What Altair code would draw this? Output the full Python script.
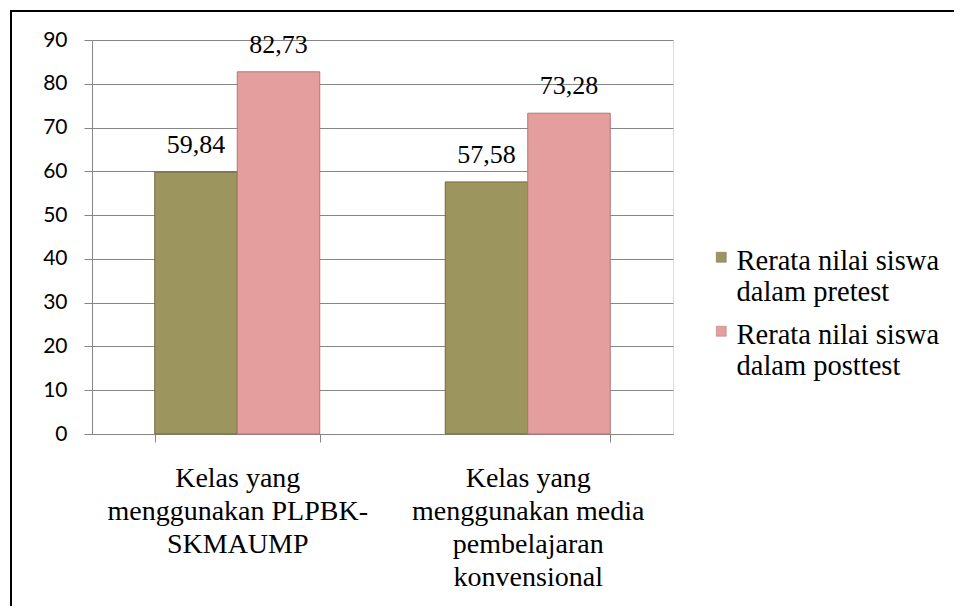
import altair as alt
import pandas as pd

categories = [
    "Kelas yang|menggunakan PLPBK-|SKMAUMP",
    "Kelas yang|menggunakan media|pembelajaran|konvensional",
]
series = ["Rerata nilai siswa|dalam pretest", "Rerata nilai siswa|dalam posttest"]
pretest = [59.84, 57.58]
posttest = [82.73, 73.28]
colors = ["#9C955E", "#E59E9E"]
strokes = ["#6F6A3E", "#B37575"]
y_ticks = [0, 10, 20, 30, 40, 50, 60, 70, 80, 90]

rows = []
for i, c in enumerate(categories):
    rows.append({"kelas": c, "seri": series[0], "nilai": pretest[i]})
    rows.append({"kelas": c, "seri": series[1], "nilai": posttest[i]})
df = pd.DataFrame(rows)

GRID = "#868686"
SERIF = "Liberation Serif, Times New Roman, serif"

x_enc = alt.X(
    "kelas:N",
    sort=categories,
    scale=alt.Scale(paddingInner=0.432, paddingOuter=0.216),
    axis=alt.Axis(
        title=None,
        labelExpr="split(datum.label, '|')",
        labelAngle=0,
        labelFont=SERIF,
        labelFontSize=28,
        labelLineHeight=33,
        labelBaseline="alphabetic",
        labelPadding=44,
        labelLimit=400,
        labelColor="black",
        labelOverlap=False,
        tickBand="extent",
        tickSize=8,
        tickColor=GRID,
        domainColor=GRID,
        grid=False,
    ),
)
x_off = alt.XOffset("seri:N", sort=series, scale=alt.Scale(paddingInner=0, paddingOuter=0))
y_enc = alt.Y(
    "nilai:Q",
    scale=alt.Scale(domain=[0, 90], nice=False),
    axis=alt.Axis(
        title=None,
        values=y_ticks,
        grid=True,
        gridColor=GRID,
        gridWidth=1,
        domainColor=GRID,
        tickColor=GRID,
        tickSize=8,
        labelFont="Lato",
        labelFontSize=21,
        labelPadding=17,
        labelColor="black",
    ),
)

bars = alt.Chart(df).mark_bar(strokeWidth=1).encode(
    x=x_enc,
    xOffset=x_off,
    y=y_enc,
    color=alt.Color(
        "seri:N",
        sort=series,
        scale=alt.Scale(domain=series, range=colors),
        legend=alt.Legend(
            title=None,
            orient="none",
            legendX=615,
            legendY=193,
            direction="vertical",
            symbolType="M-1,1H1V3H-1Z",
            symbolSize=100,
            symbolStrokeColor="#777777",
            symbolStrokeWidth=0.5,
            labelFont=SERIF,
            labelFontSize=28.5,
            labelExpr="split(datum.label, '|')",
            labelBaseline="top",
            labelOffset=1,
            labelLimit=300,
            labelColor="black",
            rowPadding=-5,
            padding=0,
        ),
    ),
    stroke=alt.Stroke("seri:N", scale=alt.Scale(domain=series, range=strokes), legend=None),
)

labels = alt.Chart(df).transform_calculate(
    lbl="replace(format(datum.nilai, '.2f'), '.', ',')"
).mark_text(
    font=SERIF, fontSize=26, dy=-19, baseline="alphabetic", color="black"
).encode(x=x_enc, xOffset=x_off, y=y_enc, text="lbl:N")

frame = alt.Chart(alt.Data(values=[{"f": 1}])).mark_rect(
    fill="transparent", stroke="black", strokeWidth=2
).encode(x=alt.value(-81), x2=alt.value(900), y=alt.value(-29), y2=alt.value(700))

chart = alt.layer(bars, labels, frame).properties(
    width=581,
    height=394,
    padding={"left": 84, "top": 32, "right": 281, "bottom": 172},
    autosize=alt.AutoSizeParams(type="none"),
).configure_view(strokeWidth=0).configure(background="white")

chart.save("out.html", embed_options={"renderer": "svg", "actions": False})
